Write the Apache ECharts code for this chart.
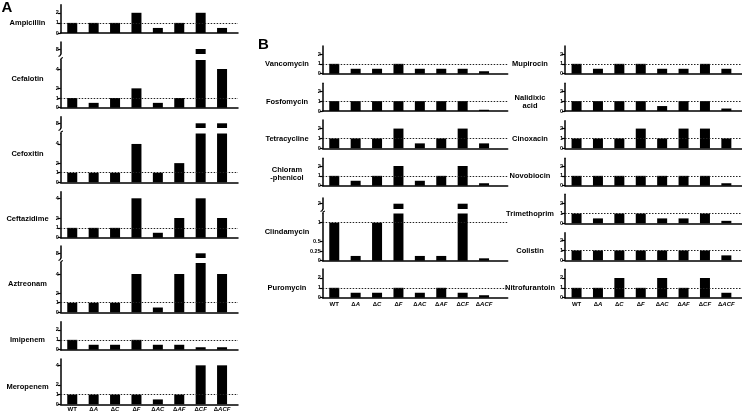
<!DOCTYPE html>
<html>
<head>
  <meta charset="UTF-8">
  <title>MIC fold change</title>
  <script src="https://cdn.jsdelivr.net/npm/echarts@6/dist/echarts.min.js"></script>
  <style>
    html, body { margin: 0; width: 100%; height: 100%; background: #fff; }
    #chart { width: 742px; height: 415px; }
  </style>
</head>
<body>
  <div id="chart"></div>
  <script>
    // strains
    const categories = ['WT', 'ΔA', 'ΔC', 'ΔF', 'ΔAC', 'ΔAF', 'ΔCF', 'ΔACF'];

    // panel A, fold change of MIC
    const drugsA = ['Ampicillin', 'Cefalotin', 'Cefoxitin', 'Ceftazidime', 'Aztreonam', 'Imipenem', 'Meropenem'];
    const ampicillin  = [1, 1, 1, 2, 0.5, 1, 2, 0.5];
    const cefalotin   = [1, 0.5, 1, 2, 0.5, 1, 8, 4];
    const cefoxitin   = [1, 1, 1, 4, 1, 2, 8, 8];
    const ceftazidime = [1, 1, 1, 4, 0.5, 2, 4, 2];
    const aztreonam   = [1, 1, 1, 4, 0.5, 4, 8, 4];
    const imipenem    = [1, 0.5, 0.5, 1, 0.5, 0.5, 0.25, 0.25];
    const meropenem   = [1, 1, 1, 1, 0.5, 1, 4, 4];

    // panel B, left column
    const drugsB1 = ['Vancomycin', 'Fosfomycin', 'Tetracycline', 'Chloram\n-phenicol', 'Clindamycin', 'Puromycin'];
    const vancomycin      = [1, 0.5, 0.5, 1, 0.5, 0.5, 0.5, 0.25];
    const fosfomycin      = [1, 1, 1, 1, 1, 1, 1, 0.125];
    const tetracycline    = [1, 1, 1, 2, 0.5, 1, 2, 0.5];
    const chloramphenicol = [1, 0.5, 1, 2, 0.5, 1, 2, 0.25];
    const clindamycin     = [1, 0.125, 1, 2, 0.125, 0.125, 2, 0.0625];
    const puromycin       = [1, 0.5, 0.5, 1, 0.5, 1, 0.5, 0.25];

    // panel B, right column
    const drugsB2 = ['Mupirocin', 'Nalidixic\nacid', 'Cinoxacin', 'Novobiocin', 'Trimethoprim', 'Colistin', 'Nitrofurantoin'];
    const mupirocin      = [1, 0.5, 1, 1, 0.5, 0.5, 1, 0.5];
    const nalidixicAcid  = [1, 1, 1, 1, 0.5, 1, 1, 0.25];
    const cinoxacin      = [1, 1, 1, 2, 1, 2, 2, 1];
    const novobiocin     = [1, 1, 1, 1, 1, 1, 1, 0.25];
    const trimethoprim   = [1, 0.5, 1, 1, 0.5, 0.5, 1, 0.25];
    const colistin       = [1, 1, 1, 1, 1, 1, 1, 0.5];
    const nitrofurantoin = [1, 1, 2, 1, 2, 1, 2, 0.5];

    const ticksSmall = [0, 1, 2];
    const ticksLarge = [0, 1, 2, 4];
    const ticksClinda = [0, 0.25, 0.5, 1];

    // layout (pixels): top of axis, y of zero, axis max, label y, optional upper segment
    const columns = [
      {
        drugs: drugsA, left: 60.7, right: 238, labelX: 27.5, xLabelMargin: 2,
        values: [ampicillin, cefalotin, cefoxitin, ceftazidime, aztreonam, imipenem, meropenem],
        panels: [
          { top: 4.7, zero: 33, max: 2.8, ticks: ticksSmall, labelY: 22.7 },
          { top: 60, zero: 107.7, max: 4.93, ticks: ticksLarge, labelY: 79, upper: { top: 42, bottom: 54, at: 8, y: 49 } },
          { top: 133.5, zero: 182.3, max: 5.09, ticks: ticksLarge, labelY: 154, upper: { top: 116.7, bottom: 128, at: 8, y: 123.3 } },
          { top: 191.7, zero: 237.7, max: 4.67, ticks: ticksLarge, labelY: 219.3 },
          { top: 263, zero: 312.3, max: 5.15, ticks: ticksLarge, labelY: 284, upper: { top: 246, bottom: 258, at: 8, y: 253.3 } },
          { top: 321.7, zero: 349.7, max: 2.84, ticks: ticksSmall, labelY: 340 },
          { top: 359, zero: 404.3, max: 4.65, ticks: ticksLarge, labelY: 386.7 }
        ]
      },
      {
        drugs: drugsB1, left: 322.7, right: 507.7, labelX: 287, xLabelMargin: 4,
        values: [vancomycin, fosfomycin, tetracycline, chloramphenicol, clindamycin, puromycin],
        panels: [
          { top: 46, zero: 73.7, max: 2.81, ticks: ticksSmall, labelY: 64.3 },
          { top: 83.3, zero: 111, max: 2.8, ticks: ticksSmall, labelY: 101.7 },
          { top: 120, zero: 148.3, max: 2.87, ticks: ticksSmall, labelY: 138.7 },
          { top: 158.3, zero: 185.7, max: 2.78, ticks: ticksSmall, labelY: 174 },
          { top: 213.5, zero: 260.7, max: 1.24, ticks: ticksClinda, labelY: 231.7, upper: { top: 198, bottom: 209, at: 2, y: 203.7 } },
          { top: 269, zero: 297.7, max: 2.9, ticks: ticksSmall, labelY: 287.7 }
        ]
      },
      {
        drugs: drugsB2, left: 565, right: 742, labelX: 530, xLabelMargin: 4,
        values: [mupirocin, nalidixicAcid, cinoxacin, novobiocin, trimethoprim, colistin, nitrofurantoin],
        panels: [
          { top: 46, zero: 73.7, max: 2.81, ticks: ticksSmall, labelY: 64 },
          { top: 83.3, zero: 111, max: 2.8, ticks: ticksSmall, labelY: 102 },
          { top: 120.7, zero: 148.3, max: 2.8, ticks: ticksSmall, labelY: 138.7 },
          { top: 158.3, zero: 185.7, max: 2.78, ticks: ticksSmall, labelY: 175.7 },
          { top: 194.3, zero: 223.3, max: 2.96, ticks: ticksSmall, labelY: 213.7 },
          { top: 232.7, zero: 260.3, max: 2.8, ticks: ticksSmall, labelY: 250.7 },
          { top: 269.3, zero: 297.7, max: 2.88, ticks: ticksSmall, labelY: 288 }
        ]
      }
    ];

    const FONT = '"Liberation Sans", Arial, sans-serif';
    const STEP = 21.4;   // px between bar centres
    const X0 = -0.54;    // gap between y axis and first bar

    const grid = [], xAxis = [], yAxis = [], series = [], graphic = [];

    function strainLabel(v) {
      const c = categories[Math.round(v)];
      if (c === undefined) return '';
      return c === 'WT' ? '{n|WT}' : '{n|Δ}{i|' + c.slice(1) + '}';
    }

    function addGrid(col, top, bottom, yMin, yMax, ticks, values, opts) {
      const idx = grid.length;
      grid.push({ left: col.left, top: top, width: col.right - col.left, height: bottom - top });
      xAxis.push({
        gridIndex: idx,
        type: 'value',
        min: X0,
        max: X0 + (col.right - col.left) / STEP,
        splitLine: { show: false },
        axisLine: { show: !opts.upper, onZero: false, lineStyle: { color: '#000', width: 1.5 } },
        axisTick: { show: false },
        axisLabel: {
          show: !!opts.bottomRow,
          customValues: [0, 1, 2, 3, 4, 5, 6, 7],
          margin: col.xLabelMargin,
          formatter: strainLabel,
          rich: {
            n: { fontFamily: FONT, fontWeight: 'bold', fontSize: 6, color: '#000' },
            i: { fontFamily: FONT, fontWeight: 'bold', fontStyle: 'italic', fontSize: 6, color: '#000' }
          }
        }
      });
      yAxis.push({
        gridIndex: idx,
        type: 'value',
        min: yMin,
        max: yMax,
        splitLine: { show: false },
        axisLine: { show: true, onZero: false, lineStyle: { color: '#000', width: 1.5 } },
        axisTick: { show: true, length: 3, customValues: ticks, lineStyle: { color: '#000', width: 1.2 } },
        axisLabel: {
          customValues: ticks,
          margin: 2,
          fontFamily: FONT,
          fontWeight: 'bold',
          fontSize: 5.5,
          color: '#000'
        }
      });
      series.push({
        type: 'bar',
        xAxisIndex: idx,
        yAxisIndex: idx,
        barWidth: 10,
        clip: true,
        itemStyle: { color: '#000' },
        data: values.map((v, i) => [i, v]),
        markLine: opts.upper ? undefined : {
          silent: true,
          symbol: ['none', 'none'],
          label: { show: false },
          lineStyle: { color: '#222', width: 1, type: [1.5, 1.5] },
          data: [{ yAxis: 1 }]
        }
      });
    }

    // small hooks that mark where a y axis is broken
    function breakHook(x, y, dir) {
      return {
        type: 'bezierCurve',
        silent: true,
        shape: { x1: x, y1: y, x2: x - 2.2 * dir, y2: y + 2.5 * dir, cpx1: x, cpy1: y + 2 * dir },
        style: { stroke: '#000', lineWidth: 1.2, fill: null }
      };
    }

    columns.forEach(col => {
      col.panels.forEach((p, k) => {
        const values = col.values[k];
        const bottomRow = k === col.panels.length - 1;
        addGrid(col, p.top, p.zero, 0, p.max, p.ticks, values, { bottomRow: bottomRow });
        if (p.upper) {
          const scale = (p.zero - p.top) / p.max;
          const u = p.upper;
          addGrid(col, u.top, u.bottom,
            u.at - (u.bottom - u.y) / scale,
            u.at + (u.y - u.top) / scale,
            [u.at], values, { upper: true });
          graphic.push(breakHook(col.left, u.bottom, 1), breakHook(col.left, p.top, -1));
        }
        graphic.push({
          type: 'text',
          x: col.labelX,
          y: p.labelY,
          style: {
            text: col.drugs[k],
            align: 'center',
            verticalAlign: 'middle',
            textAlign: 'center',
            textVerticalAlign: 'middle',
            lineHeight: 8,
            font: 'bold 7.5px ' + FONT,
            fill: '#000'
          }
        });
      });
    });

    // panel letters
    graphic.push(
      { type: 'text', x: 7, y: 8, style: { text: 'A', align: 'center', verticalAlign: 'middle', textAlign: 'center', textVerticalAlign: 'middle', font: 'bold 15px ' + FONT, fill: '#000' } },
      { type: 'text', x: 263.5, y: 45, style: { text: 'B', align: 'center', verticalAlign: 'middle', textAlign: 'center', textVerticalAlign: 'middle', font: 'bold 15px ' + FONT, fill: '#000' } }
    );

    const chart = echarts.init(document.getElementById('chart'));
    chart.setOption({
      animation: false,
      backgroundColor: '#fff',
      grid: grid,
      xAxis: xAxis,
      yAxis: yAxis,
      series: series,
      graphic: graphic
    });
    window.addEventListener('resize', () => chart.resize());
  </script>
</body>
</html>
